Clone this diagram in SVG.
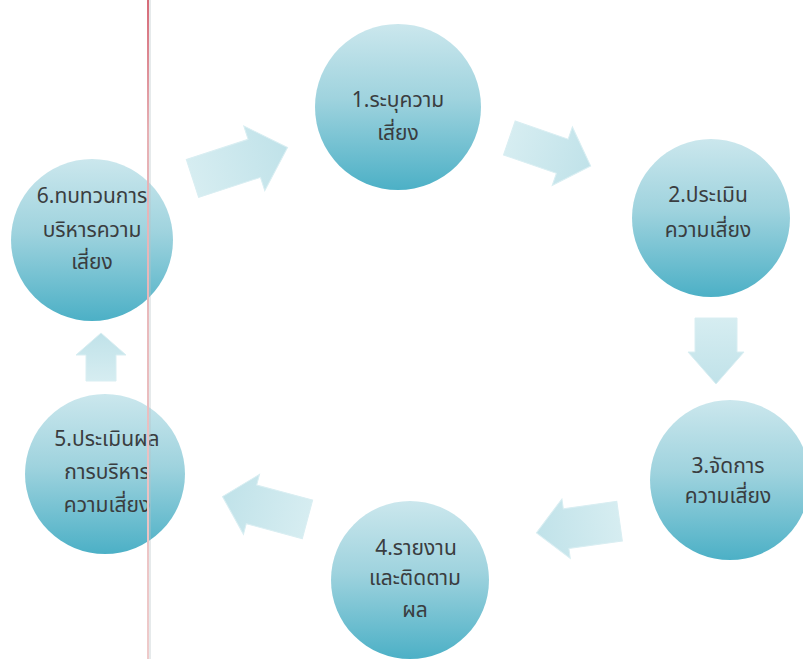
<svg xmlns="http://www.w3.org/2000/svg" width="803" height="659" viewBox="0 0 803 659">
  <defs>
    <linearGradient id="circ" x1="0" y1="0" x2="0" y2="1">
      <stop offset="0" stop-color="#cbe7ed"/>
      <stop offset="0.45" stop-color="#9fd3de"/>
      <stop offset="1" stop-color="#4cb0c6"/>
    </linearGradient>
    <linearGradient id="arr" x1="0" y1="0" x2="1" y2="0">
      <stop offset="0" stop-color="#d6edf1"/>
      <stop offset="1" stop-color="#c0e2e9"/>
    </linearGradient>
    <linearGradient id="fold" gradientUnits="userSpaceOnUse" x1="0" y1="0" x2="0" y2="659">
      <stop offset="0" stop-color="#d66a78"/>
      <stop offset="0.2" stop-color="#e6b0b4"/>
      <stop offset="1" stop-color="#eecaca"/>
    </linearGradient>
  </defs>
  <style>
    .node circle { fill: url(#circ); }
    .node text { font-family: "Noto Sans Thai", "Noto Sans", "DejaVu Sans", sans-serif; font-size: 21px; fill: #3a3d40; text-anchor: middle; }
    .arrow { fill: url(#arr); stroke: #d9eef2; stroke-width: 1; }
  </style>
  <rect x="0" y="0" width="803" height="659" fill="#ffffff"/>

  <g id="connectors">
    <polygon class="arrow" transform="translate(240,163) rotate(-18)" points="-50,-20 15,-20 15,-34 50,0 15,34 15,20 -50,20"/>
    <polygon class="arrow" transform="translate(550,152) rotate(19)" points="-43,-18 13,-18 13,-31 43,0 13,31 13,18 -43,18"/>
    <polygon class="arrow" transform="translate(716,351) rotate(90)" points="-33,-21 1,-21 1,-28 33,0 1,28 1,21 -33,21"/>
    <polygon class="arrow" transform="translate(578,527) rotate(172)" points="-42,-20 12,-20 12,-30 42,0 12,30 12,20 -42,20"/>
    <polygon class="arrow" transform="translate(265,508) rotate(195)" points="-44,-20 14,-20 14,-31 44,0 14,31 14,20 -44,20"/>
    <polygon class="arrow" transform="translate(101,357) rotate(-90)" points="-24,-15 2,-15 2,-25 24,0 2,25 2,15 -24,15"/>
  </g>

  <g id="node1" class="node">
    <circle cx="398" cy="107" r="83"/>
    <text x="398" y="107">1.ระบุความ</text>
    <text x="398" y="140">เสี่ยง</text>
  </g>
  <g id="node2" class="node">
    <circle cx="711" cy="218" r="79"/>
    <text x="708" y="202">2.ประเมิน</text>
    <text x="708" y="237">ความเสี่ยง</text>
  </g>
  <g id="node3" class="node">
    <circle cx="730" cy="480" r="80"/>
    <text x="728" y="473">3.จัดการ</text>
    <text x="728" y="503">ความเสี่ยง</text>
  </g>
  <g id="node4" class="node">
    <circle cx="410" cy="580" r="79"/>
    <text x="416" y="555">4.รายงาน</text>
    <text x="415" y="585">และติดตาม</text>
    <text x="415" y="617">ผล</text>
  </g>
  <g id="node5" class="node">
    <circle cx="105" cy="474" r="80"/>
    <text x="107" y="446">5.ประเมินผล</text>
    <text x="107" y="479">การบริหาร</text>
    <text x="107" y="512">ความเสี่ยง</text>
  </g>
  <g id="node6" class="node">
    <circle cx="92" cy="240" r="81"/>
    <text x="92" y="203">6.ทบทวนการ</text>
    <text x="92" y="237">บริหารความ</text>
    <text x="92" y="269">เสี่ยง</text>
  </g>

  <line x1="150" y1="0" x2="150" y2="659" stroke="#b8c4c8" stroke-width="2" opacity="0.35"/>
  <line x1="148" y1="0" x2="148" y2="659" stroke="url(#fold)" stroke-width="2"/>
</svg>
